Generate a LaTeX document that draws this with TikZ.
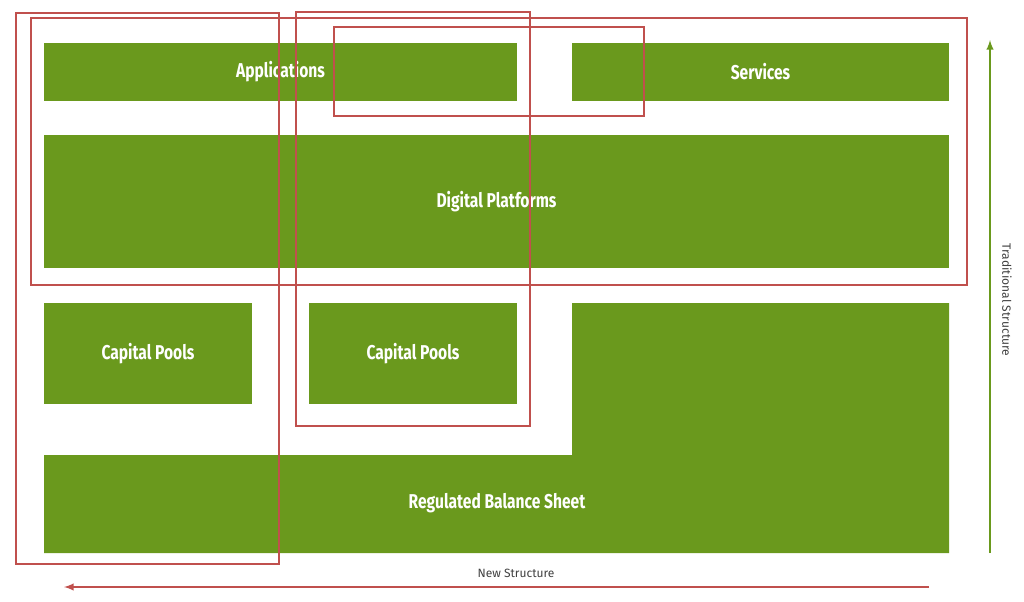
\documentclass[tikz,border=0pt]{standalone}
\usepackage{fontspec}
\setmainfont{Fira Sans}
\newfontfamily\cond[FakeStretch=0.78]{Fira Sans}
\begin{document}
\begin{tikzpicture}[x=0.75pt,y=-0.75pt,
  blk/.style={fill=grn,draw=none},
  lbl/.style={text=white,font=\cond\bfseries\fontsize{15}{18}\selectfont},
  frame/.style={draw=redc,line width=1pt}]
\definecolor{grn}{HTML}{6A991D}
\definecolor{redc}{HTML}{C0504D}
\useasboundingbox (0,0) rectangle (1024,601);
\fill[blk] (44,43) rectangle (517,101) node[lbl,midway] (app) {Applications};
\fill[blk] (572,43) rectangle (949,101) node[lbl,midway] (srv) {Services};
\fill[blk] (44,135) rectangle (949,268) node[lbl,midway] (dp) {Digital Platforms};
\fill[blk] (44,303) rectangle (252,404) node[lbl,midway] (cp1) {Capital Pools};
\fill[blk] (309,303) rectangle (517,404) node[lbl,midway] (cp2) {Capital Pools};
\fill[blk] (572,303) -- (949,303) -- (949,553) -- (44,553) -- (44,455) -- (572,455) -- cycle;
\node[lbl] (rbs) at (497,503) {Regulated Balance Sheet};
\draw[frame] (16,13) rectangle (279,564);
\draw[frame] (296,12) rectangle (530,426);
\draw[frame] (31,18) rectangle (967,285);
\draw[frame] (334,27) rectangle (644,116);
\coordinate (g1) at (990,553); \coordinate (g2) at (990,40);
\draw[grn,line width=1.5pt,-latex] (g1) -- (g2);
\node[rotate=-90,font=\fontsize{9}{11}\selectfont,text=black!75] (ts) at (1007,300) {Traditional Structure};
\coordinate (r1) at (929,587); \coordinate (r2) at (64,587);
\draw[redc,line width=1.5pt,-latex] (r1) -- (r2);
\node[font=\fontsize{9}{11}\selectfont,text=black!75] (ns) at (516,573) {New Structure};
\end{tikzpicture}
\end{document}
